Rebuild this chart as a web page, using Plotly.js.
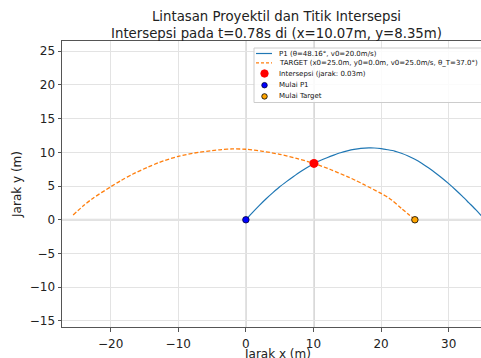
<!DOCTYPE html>
<html>
<head>
<meta charset="utf-8">
<script src="https://cdn.plot.ly/plotly-3.0.1.min.js"></script>
<style>html,body{margin:0;padding:0;background:#fff;}#chart{width:481px;height:358px;}</style>
</head>
<body>
<div id="chart"></div>
<script>
// ---- data ----
const p1X = [0, 1, 2, 3, 4, 5, 6, 7, 8, 9, 10.07, 11, 12, 13, 14, 15, 16, 17, 18.2, 19, 20, 21, 22, 23, 24, 25, 26, 27, 28, 29, 30, 31, 32, 33, 34, 35, 36];
const p1Y = [0, 1.1, 2.14, 3.12, 4.02, 4.88, 5.65, 6.38, 7.08, 7.72, 8.35, 8.78, 9.2, 9.58, 9.93, 10.2, 10.42, 10.57, 10.65, 10.64, 10.55, 10.38, 10.18, 9.85, 9.45, 8.97, 8.38, 7.7, 6.98, 6.2, 5.35, 4.45, 3.5, 2.5, 1.5, 0.42, -0.7];
const targetX = [25, 23, 21.2, 20, 17.5, 16.2, 15, 12.5, 10.07, 7.5, 5, 2.5, 0, -2, -3.6, -5, -7, -10, -12.8, -14.5, -16.7, -18.5, -20, -22.6, -24, -25.6];
const targetY = [0, 1.7, 3.2, 3.9, 5.2, 5.85, 6.4, 7.45, 8.35, 9.1, 9.7, 10.15, 10.45, 10.5, 10.4, 10.25, 10.0, 9.4, 8.5, 7.8, 6.78, 5.8, 4.88, 3.2, 2.1, 0.66];
const intersectX = [10.07];
const intersectY = [8.35];
const p1StartX = [0];
const p1StartY = [0];
const targetStartX = [25];
const targetStartY = [0];
const xTicks = [-20, -10, 0, 10, 20, 30];
const yTicks = [-15, -10, -5, 0, 5, 10, 15, 20, 25];
const legendLabels = [
  "P1 (θ=48.16°, v0=20.0m/s)",
  "TARGET (x0=25.0m, y0=0.0m, v0=25.0m/s, θ_T=37.0°)",
  "Intersepsi (jarak: 0.03m)",
  "Mulai P1",
  "Mulai Target"
];
const titleText = "Lintasan Proyektil dan Titik Intersepsi<br>Intersepsi pada t=0.78s di (x=10.07m, y=8.35m)";
const xTitle = "Jarak x (m)";
const yTitle = "Jarak y (m)";

// ---- layout geometry ----
const W = 481, H = 358;
const L = 62, R = 0, T = 41, B = 31;
const pw = W - L - R, ph = H - T - B;
const px = v => (v - L) / pw;
const py = v => (H - B - v) / ph;
const FONT = "DejaVu Sans, Liberation Sans, sans-serif";

const traces = [
  {x: p1X, y: p1Y, mode: "lines", line: {color: "#1f77b4", width: 1.2, shape: "spline", smoothing: 0.6}, showlegend: false, hoverinfo: "skip"},
  {x: targetX, y: targetY, mode: "lines", line: {color: "#ff7f0e", width: 1.3, dash: "4px,2px", shape: "spline", smoothing: 0.8}, showlegend: false, hoverinfo: "skip"},
  {x: intersectX, y: intersectY, mode: "markers", marker: {color: "#ff0000", size: 9}, showlegend: false, cliponaxis: false},
  {x: p1StartX, y: p1StartY, mode: "markers", marker: {color: "#0000ff", size: 6.5, line: {color: "#000033", width: 0.8}}, showlegend: false, cliponaxis: false},
  {x: targetStartX, y: targetStartY, mode: "markers", marker: {color: "#ffa500", size: 6.5, line: {color: "#000000", width: 0.8}}, showlegend: false, cliponaxis: false}
];

// legend (drawn manually to match compact matplotlib legend)
const rowsY = [53.5, 62.8, 73.5, 85.2, 96.4];
const shapes = [
  {type: "line", xref: "x", yref: "paper", x0: 0, x1: 0, y0: 0, y1: 1, line: {color: "#a8a8a8", width: 1}, layer: "below"},
  {type: "line", xref: "x", yref: "paper", x0: intersectX[0], x1: intersectX[0], y0: 0, y1: 1, line: {color: "#a8a8a8", width: 1}, layer: "below"},
  {type: "line", xref: "paper", yref: "y", x0: 0, x1: 1, y0: 0, y1: 0, line: {color: "#d9d9d9", width: 2}, layer: "below"},
  {type: "rect", xref: "paper", yref: "paper", x0: px(254), x1: px(495), y0: py(48), y1: py(102.5), fillcolor: "rgba(255,255,255,0.85)", line: {color: "#cccccc", width: 1}, layer: "above"},
  {type: "line", xref: "paper", yref: "paper", x0: px(256), x1: px(272), y0: py(rowsY[0]), y1: py(rowsY[0]), line: {color: "#1f77b4", width: 1.2}, layer: "above"},
  {type: "line", xref: "paper", yref: "paper", x0: px(256), x1: px(272), y0: py(rowsY[1]), y1: py(rowsY[1]), line: {color: "#ff7f0e", width: 1.3, dash: "3px,2px"}, layer: "above"}
];
const legMarkers = [
  {row: 2, d: 7.5, fill: "#ff0000", edge: "#ff0000"},
  {row: 3, d: 5.5, fill: "#0000ff", edge: "#000033"},
  {row: 4, d: 5.5, fill: "#ffa500", edge: "#000000"}
];
legMarkers.forEach(m => shapes.push({
  type: "circle", xref: "paper", yref: "paper", layer: "above",
  xsizemode: "pixel", ysizemode: "pixel", xanchor: px(264.5), yanchor: py(rowsY[m.row]),
  x0: -m.d / 2, x1: m.d / 2, y0: -m.d / 2, y1: m.d / 2,
  fillcolor: m.fill, line: {color: m.edge, width: 0.8}
}));
const annotations = legendLabels.map((t, i) => ({
  text: t, xref: "paper", yref: "paper", x: px(276.5), y: py(rowsY[i]),
  xanchor: "left", yanchor: "middle", showarrow: false,
  font: {family: FONT, size: 7, color: "#111"}
}));
// x-axis title placed like matplotlib's (partly below the picture's edge)
annotations.push({
  text: xTitle, xref: "paper", yref: "paper", x: px(277), y: py(353.5),
  xanchor: "center", yanchor: "middle", showarrow: false,
  font: {family: FONT, size: 12, color: "#222"}
});

const layout = {
  width: W, height: H,
  margin: {l: L, r: R, t: T, b: B, pad: 0},
  paper_bgcolor: "#ffffff", plot_bgcolor: "#ffffff",
  font: {family: FONT, size: 12, color: "#222"},
  showlegend: false,
  title: {text: titleText, font: {family: FONT, size: 13.3, color: "#222"}, xref: "paper", x: px(276.5), xanchor: "center", yref: "container", y: 1 - 21 / H, yanchor: "top"},
  xaxis: {
    range: [-27.2, 34.78], tickvals: xTicks, ticktext: xTicks.map(v => (v < 0 ? "\u2212" : "") + Math.abs(v)),
    showgrid: true, gridcolor: "#e3e3e3", gridwidth: 1, zeroline: false,
    showline: true, linecolor: "#555", linewidth: 1, mirror: true,
    ticks: "outside", ticklen: 3.5, tickcolor: "#555", tickwidth: 1, ticklabelstandoff: 2,
    tickfont: {family: FONT, size: 12, color: "#222"},
    automargin: false
  },
  yaxis: {
    range: [-15.9, 26.5], tickvals: yTicks, ticktext: yTicks.map(v => (v < 0 ? "\u2212" : "") + Math.abs(v)),
    showgrid: true, gridcolor: "#e3e3e3", gridwidth: 1, zeroline: false,
    showline: true, linecolor: "#555", linewidth: 1, mirror: true,
    ticks: "outside", ticklen: 3.5, tickcolor: "#555", tickwidth: 1,
    tickfont: {family: FONT, size: 12, color: "#222"},
    title: {text: yTitle, font: {family: FONT, size: 12, color: "#222"}, standoff: 5},
    automargin: false
  },
  shapes: shapes,
  annotations: annotations
};

Plotly.newPlot("chart", traces, layout, {staticPlot: true, displayModeBar: false});
</script>
</body>
</html>
